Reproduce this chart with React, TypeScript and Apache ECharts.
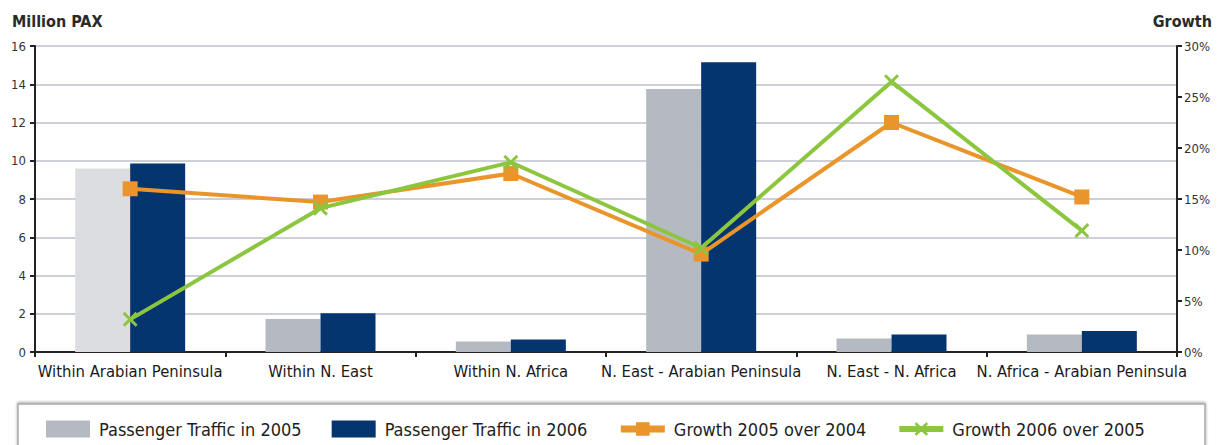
import React, { useEffect, useRef } from "react";
import * as echarts from "echarts";

// Route groups on the category axis
const routes = [
  "Within Arabian Peninsula",
  "Within N. East",
  "Within N. Africa",
  "N. East - Arabian Peninsula",
  "N. East - N. Africa",
  "N. Africa - Arabian Peninsula",
];

// Passenger traffic, million PAX
const traffic2005 = [9.6, 1.73, 0.55, 13.75, 0.71, 0.92];
const traffic2006 = [9.85, 2.02, 0.65, 15.15, 0.92, 1.1];

// Growth rates, percent
const growth2005 = [16.0, 14.7, 17.5, 9.6, 22.5, 15.2];
const growth2006 = [3.2, 14.1, 18.6, 10.2, 26.5, 11.9];

const seriesNames = [
  "Passenger Traffic in 2005",
  "Passenger Traffic in 2006",
  "Growth 2005 over 2004",
  "Growth 2006 over 2005",
];

const GRAY = "#b5bac2";
const GRAY_LIGHT = "#dcdde0";
const NAVY = "#04356f";
const ORANGE = "#e9952b";
const GREEN = "#8cc63f";
const FONT = "'DejaVu Sans Condensed', 'DejaVu Sans', sans-serif";

const crossSymbol =
  "path://M0,1.4L1.4,0L5,3.6L8.6,0L10,1.4L6.4,5L10,8.6L8.6,10L5,6.4L1.4,10L0,8.6L3.6,5Z";

export default function App() {
  const ref = useRef<HTMLDivElement>(null);

  useEffect(() => {
    document.body.style.margin = "0";
    if (!ref.current) return;
    const chart = echarts.init(ref.current, undefined, { renderer: "svg" });

    chart.setOption({
      animation: false,
      textStyle: { fontFamily: FONT },
      grid: { left: 35, right: 43, top: 46, bottom: 93 },
      graphic: [
        {
          type: "rect",
          shape: { x: 18, y: 404, width: 1187, height: 60 },
          style: {
            fill: "#ffffff",
            stroke: "#a9a9a9",
            lineWidth: 1.5,
            shadowColor: "rgba(0,0,0,0.35)",
            shadowBlur: 3,
            shadowOffsetY: -1,
          },
          z: -1,
        },
        {
          type: "text",
          left: 12,
          top: 13,
          style: {
            text: "Million PAX",
            fill: "#2a2a2a",
            font: `bold 16px ${FONT}`,
          },
        },
        {
          type: "text",
          right: 8,
          top: 13,
          style: {
            text: "Growth",
            fill: "#2a2a2a",
            font: `bold 16px ${FONT}`,
          },
        },
      ],
      legend: {
        data: [
          { name: seriesNames[0], icon: "rect" },
          { name: seriesNames[1], icon: "rect" },
          { name: seriesNames[2], lineStyle: { width: 7 } },
          { name: seriesNames[3], lineStyle: { width: 6 } },
        ],
        left: 41,
        top: 415,
        itemWidth: 44,
        itemHeight: 17,
        itemGap: 30,
        textStyle: { fontSize: 18, color: "#1e1e1e", fontFamily: FONT, padding: [0, 0, 0, 4] },
      },
      xAxis: {
        type: "category",
        data: routes,
        axisLine: { lineStyle: { color: "#222", width: 2 } },
        axisTick: { show: true, alignWithLabel: false, length: 5, lineStyle: { color: "#222", width: 2 } },
        axisLabel: { color: "#1a1a1a", fontSize: 16.5, margin: 11, interval: 0 },
      },
      yAxis: [
        {
          type: "value",
          min: 0,
          max: 16,
          interval: 2,
          axisLine: { show: true, lineStyle: { color: "#222", width: 2 } },
          axisTick: { show: true, length: 5, lineStyle: { color: "#222", width: 2 } },
          axisLabel: { color: "#333", fontSize: 13, margin: 9 },
          splitLine: { lineStyle: { color: "#cdd0d8", width: 2 } },
        },
        {
          type: "value",
          min: 0,
          max: 30,
          interval: 5,
          position: "right",
          axisLine: { show: true, lineStyle: { color: "#222", width: 2 } },
          axisTick: { show: true, length: 5, lineStyle: { color: "#222", width: 2 } },
          axisLabel: { color: "#333", fontSize: 13, margin: 7, formatter: "{value}%" },
          splitLine: { show: false },
        },
      ],
      series: [
        {
          name: seriesNames[0],
          type: "bar",
          data: traffic2005.map((v, i) =>
            i === 0 ? { value: v, itemStyle: { color: GRAY_LIGHT } } : v
          ),
          itemStyle: { color: GRAY },
          barWidth: 55,
          barGap: "0%",
        },
        {
          name: seriesNames[1],
          type: "bar",
          data: traffic2006,
          itemStyle: { color: NAVY },
          barWidth: 55,
          barGap: "0%",
        },
        {
          name: seriesNames[2],
          type: "line",
          yAxisIndex: 1,
          data: growth2005,
          symbol: "rect",
          symbolSize: 15,
          lineStyle: { color: ORANGE, width: 4 },
          itemStyle: { color: ORANGE },
          z: 3,
        },
        {
          name: seriesNames[3],
          type: "line",
          yAxisIndex: 1,
          data: growth2006,
          symbol: crossSymbol,
          symbolSize: 15,
          lineStyle: { color: GREEN, width: 4 },
          itemStyle: { color: GREEN },
          z: 4,
        },
      ],
    });

    return () => chart.dispose();
  }, []);

  return <div ref={ref} style={{ width: 1220, height: 445 }} />;
}
